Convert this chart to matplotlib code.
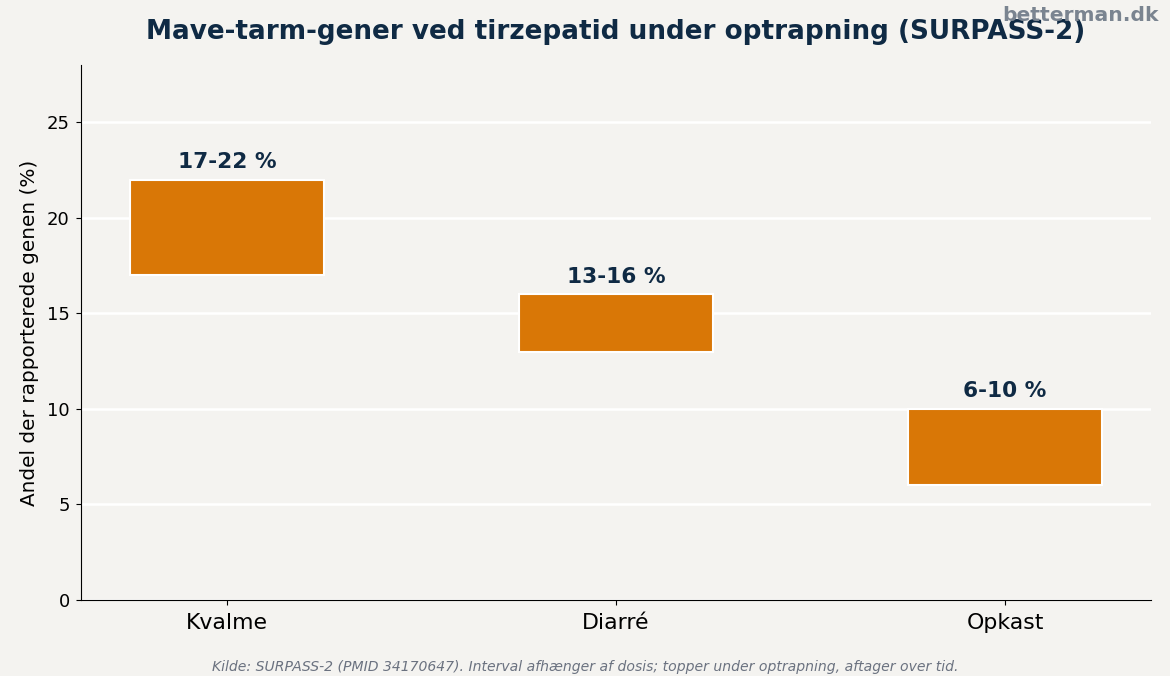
import numpy as np
import matplotlib.pyplot as plt

categories = ["Kvalme", "Diarré", "Opkast"]
low_pct = [17, 13, 6]
high_pct = [22, 16, 10]
labels = ["17-22 %", "13-16 %", "6-10 %"]

BG = "#f4f3f0"
NAVY = "#0f2a44"
ORANGE = "#d97706"


def main() -> None:
    fig, ax = plt.subplots(figsize=(11.7, 6.76), dpi=100)
    fig.patch.set_facecolor(BG)
    ax.set_facecolor(BG)
    fig.subplots_adjust(left=0.0692, right=0.9838, top=0.9038, bottom=0.1124)

    x = np.arange(len(categories))
    heights = np.array(high_pct) - np.array(low_pct)
    ax.bar(x, heights, bottom=low_pct, width=0.5, color=ORANGE,
           edgecolor="white", linewidth=1.5, zorder=3)

    for xi, hi, lab in zip(x, high_pct, labels):
        ax.text(xi, hi + 0.4, lab, ha="center", va="bottom",
                fontsize=15.6, fontweight="bold", color=NAVY, zorder=4)

    ax.set_ylim(0, 28)
    ax.set_xlim(-0.375, 2.375)
    ax.set_xticks(x)
    ax.set_xticklabels(categories, fontsize=15.8)
    ax.tick_params(axis="x", pad=6)
    ax.tick_params(axis="y", labelsize=13, pad=4.5)
    ax.set_yticks([0, 5, 10, 15, 20, 25])
    ax.set_ylabel("Andel der rapporterede genen (%)", fontsize=14.4, labelpad=6)
    ax.yaxis.grid(True, color="white", linewidth=1.8, zorder=0)
    ax.set_axisbelow(True)
    for side in ("top", "right"):
        ax.spines[side].set_visible(False)

    ax.set_title("Mave-tarm-gener ved tirzepatid under optrapning (SURPASS-2)",
                 fontsize=18.9, fontweight="bold", color=NAVY, pad=18.5)
    fig.text(0.99, 0.977, "betterman.dk", ha="right", va="center",
             fontsize=14.6, fontweight="bold", color="#7a8490")
    fig.text(0.5, 0.013, "Kilde: SURPASS-2 (PMID 34170647). Interval afhænger af dosis; "
             "topper under optrapning, aftager over tid.",
             ha="center", va="center", fontsize=10.1, style="italic", color="#6b7280")

    fig.savefig("out.png", dpi=100, facecolor=BG)


if __name__ == "__main__":
    main()
